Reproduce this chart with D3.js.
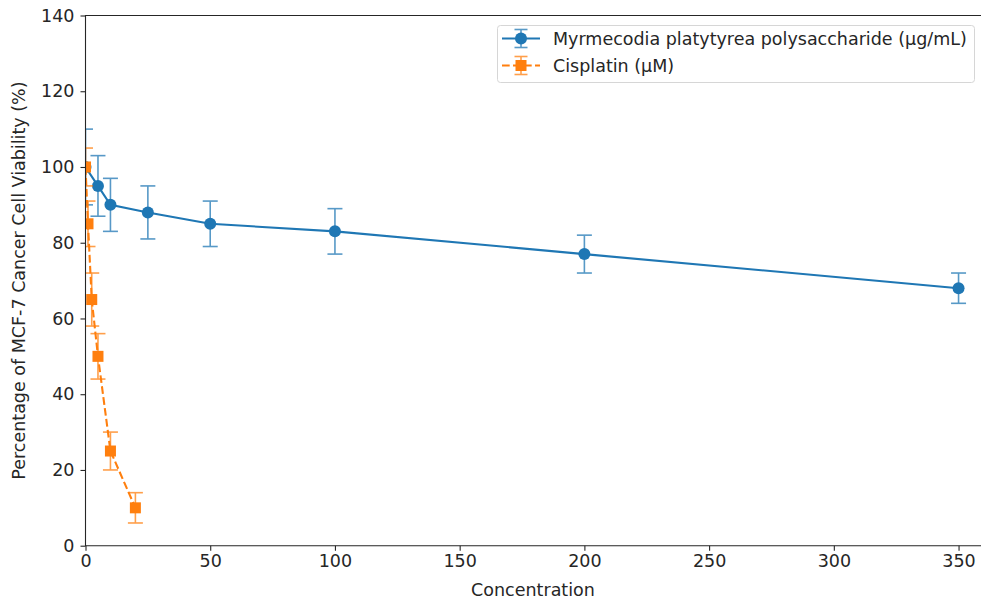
<!DOCTYPE html>
<html><head><meta charset="utf-8">
<script src="https://cdn.jsdelivr.net/npm/d3@7"></script>
<style>html,body{margin:0;padding:0;background:#fff;}svg{display:block;font-family:"DejaVu Sans",sans-serif;}</style>
</head><body>
<script>
const blueX = [0, 5, 10, 25, 50, 100, 200, 350];
const blueY = [100, 95, 90, 88, 85, 83, 77, 68];
const blueErr = [10, 8, 7, 7, 6, 6, 5, 4];
const orangeX = [0, 1, 2.5, 5, 10, 20];
const orangeY = [100, 85, 65, 50, 25, 10];
const orangeErr = [5, 6, 7, 6, 5, 4];
const xTicks = [0, 50, 100, 150, 200, 250, 300, 350];
const yTicks = [0, 20, 40, 60, 80, 100, 120, 140];
const seriesNames = ["Myrmecodia platytyrea polysaccharide (µg/mL)", "Cisplatin (µM)"];

const W = 981, H = 603;
const L = 85.5, T = 15.5, B = 545.7, R = 981;
const FS = 17.5;
const x = d3.scaleLinear().domain([0, 359]).range([L, R]);
const y = d3.scaleLinear().domain([0, 140]).range([B, T]);

const svg = d3.select("body").append("svg").attr("width", W).attr("height", H);
svg.append("defs").append("clipPath").attr("id", "clip")
  .append("rect").attr("x", L).attr("y", T).attr("width", R - L + 20).attr("height", B - T);

const series = [
  {xs: blueX, ys: blueY, es: blueErr, color: "#1f77b4", dash: null, marker: "circle"},
  {xs: orangeX, ys: orangeY, es: orangeErr, color: "#ff7f0e", dash: "7.7,3.3", marker: "square"}
];

const plot = svg.append("g").attr("clip-path", "url(#clip)");
const cap = 7.5;
series.forEach(s => {
  const pts = s.xs.map((v, i) => ({x: v, y: s.ys[i], e: s.es[i]}));
  const eg = plot.append("g").attr("stroke", s.color).attr("stroke-width", 1.6).attr("opacity", 0.75);
  pts.forEach(p => {
    eg.append("line").attr("x1", x(p.x)).attr("x2", x(p.x)).attr("y1", y(p.y - p.e)).attr("y2", y(p.y + p.e));
    [p.y - p.e, p.y + p.e].forEach(v => eg.append("line")
      .attr("x1", x(p.x) - cap).attr("x2", x(p.x) + cap).attr("y1", y(v)).attr("y2", y(v)));
  });
  const line = d3.line().x(d => x(d.x)).y(d => y(d.y));
  plot.append("path").datum(pts).attr("d", line).attr("fill", "none")
    .attr("stroke", s.color).attr("stroke-width", 2.1).attr("stroke-dasharray", s.dash);
  pts.forEach(p => {
    if (s.marker === "circle") plot.append("circle").attr("cx", x(p.x)).attr("cy", y(p.y)).attr("r", 6).attr("fill", s.color);
    else plot.append("rect").attr("x", x(p.x) - 5.5).attr("y", y(p.y) - 5.5).attr("width", 11).attr("height", 11).attr("fill", s.color);
  });
});

// axes
const xAxis = d3.axisBottom(x).tickValues(xTicks).tickSize(5).tickPadding(4).tickFormat(d3.format("d"));
const yAxis = d3.axisLeft(y).tickValues(yTicks).tickSize(5).tickPadding(6).tickFormat(d3.format("d"));
const gx = svg.append("g").attr("transform", `translate(0,${B})`).call(xAxis);
const gy = svg.append("g").attr("transform", `translate(${L},0)`).call(yAxis);
[gx, gy].forEach(g => {
  g.select(".domain").remove();
  g.selectAll("text").attr("font-size", FS).attr("fill", "#262626").attr("font-family", "DejaVu Sans");
  g.selectAll("line").attr("stroke", "#262626").attr("stroke-width", 1.1);
});
// spines
svg.append("path").attr("d", `M${R + 5},${T}H${L}V${B}H${R + 5}`).attr("fill", "none")
  .attr("stroke", "#262626").attr("stroke-width", 1.1);

svg.append("text").attr("x", 533).attr("y", 596).attr("text-anchor", "middle")
  .attr("font-size", FS).attr("fill", "#262626").text("Concentration");
svg.append("text").attr("transform", `translate(25,${(T + B) / 2}) rotate(-90)`).attr("text-anchor", "middle")
  .attr("font-size", FS).attr("fill", "#262626").text("Percentage of MCF-7 Cancer Cell Viability (%)");

// legend
const lg = svg.append("g");
lg.append("rect").attr("x", 497.5).attr("y", 25.5).attr("width", 477).attr("height", 57).attr("rx", 3)
  .attr("fill", "#fff").attr("fill-opacity", 0.8).attr("stroke", "#d6d6d6");
series.forEach((s, i) => {
  const cy = 38.5 + i * 27, cx = 521;
  const g = lg.append("g");
  g.append("line").attr("x1", 502).attr("x2", 540).attr("y1", cy).attr("y2", cy)
    .attr("stroke", s.color).attr("stroke-width", 2.1).attr("stroke-dasharray", s.dash ? "7.7,3.3" : null);
  const eg = g.append("g").attr("stroke", s.color).attr("stroke-width", 1.6).attr("opacity", 0.75);
  eg.append("line").attr("x1", cx).attr("x2", cx).attr("y1", cy - 9).attr("y2", cy + 9);
  [cy - 9, cy + 9].forEach(v => eg.append("line").attr("x1", cx - 6.5).attr("x2", cx + 6.5).attr("y1", v).attr("y2", v));
  if (s.marker === "circle") g.append("circle").attr("cx", cx).attr("cy", cy).attr("r", 6).attr("fill", s.color);
  else g.append("rect").attr("x", cx - 5.5).attr("y", cy - 5.5).attr("width", 11).attr("height", 11).attr("fill", s.color);
  lg.append("text").attr("x", 553).attr("y", cy + 6.3).attr("font-size", FS).attr("fill", "#262626").text(seriesNames[i]);
});
</script>
</body></html>
